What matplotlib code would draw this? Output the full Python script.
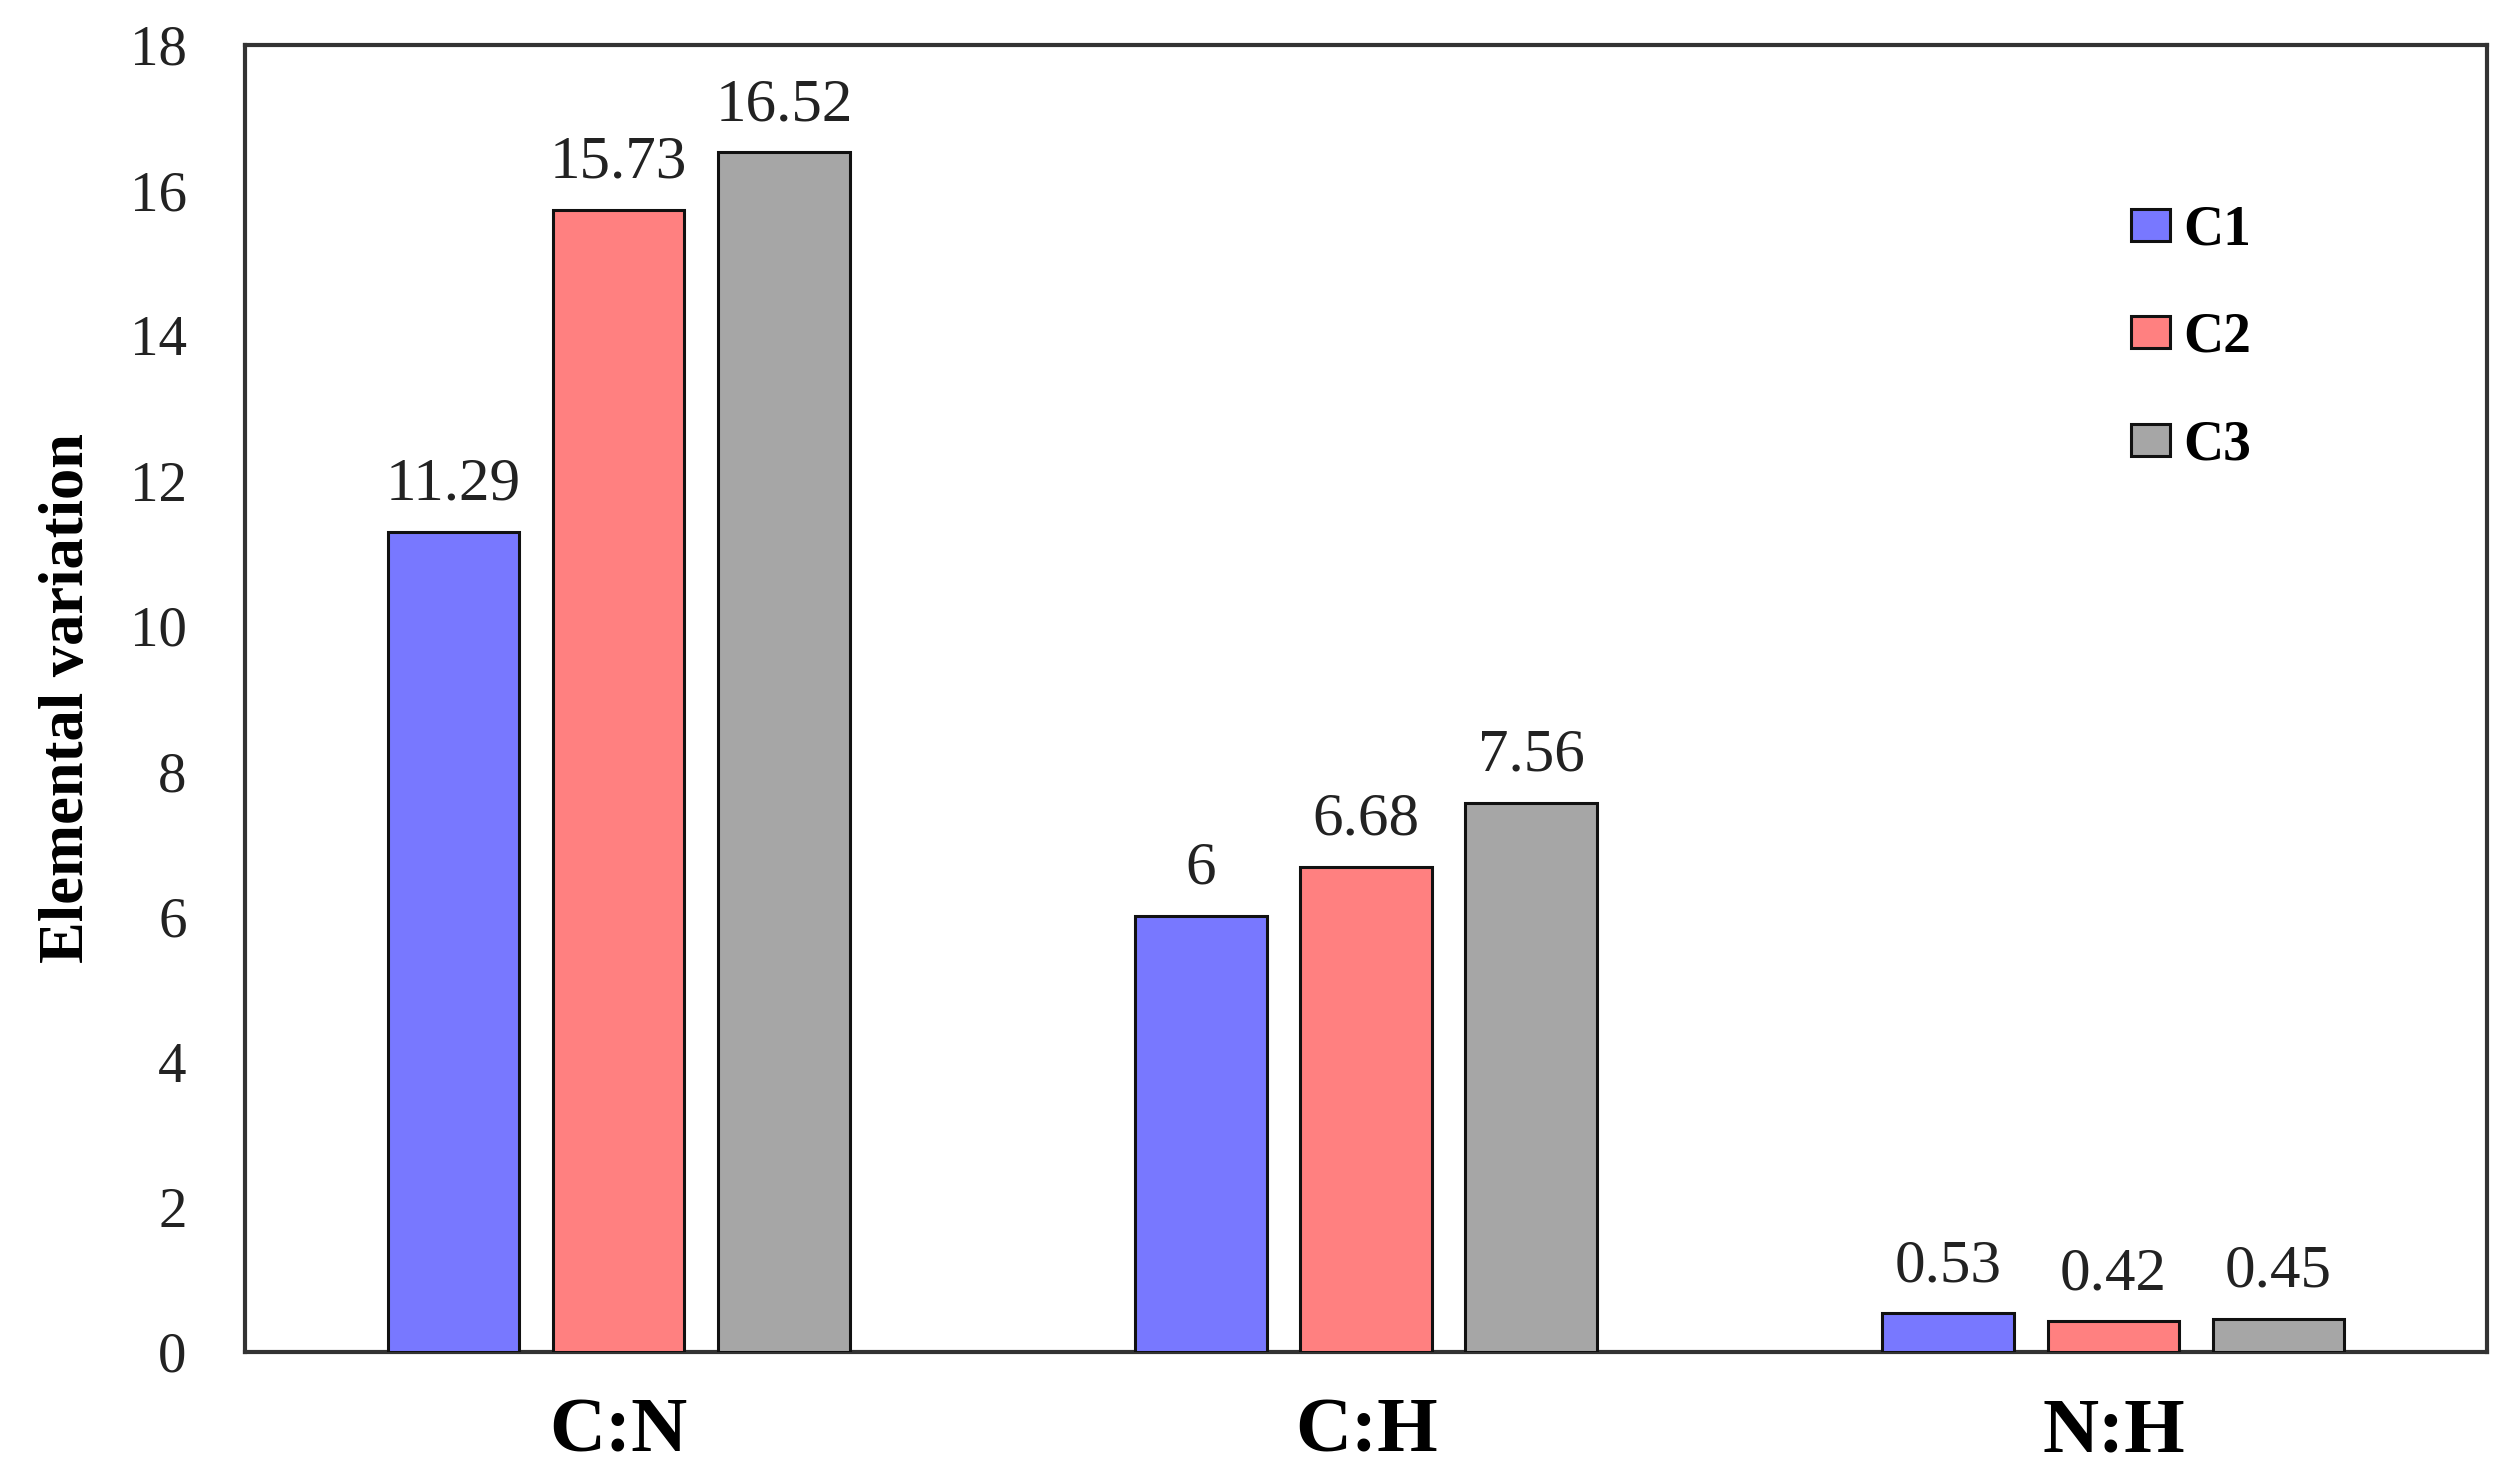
import numpy as np
import matplotlib
matplotlib.use("Agg")
import matplotlib.pyplot as plt

# Data
categories = ['C:N', 'C:H', 'N:H']
series = ['C1', 'C2', 'C3']
c1 = [11.29, 6, 0.53]
c2 = [15.73, 6.68, 0.42]
c3 = [16.52, 7.56, 0.45]
colors = ['#7878FF', '#FF8080', '#A6A6A6']

plt.rcParams['font.family'] = ['Liberation Serif', 'DejaVu Serif']

fig = plt.figure(figsize=(25.13, 14.70), dpi=100)
ax = fig.add_axes([0.0975, 0.0803, 0.8922, 0.8891])

x = np.arange(len(categories))
width = 0.176
step = 0.221

for i, (name, vals) in enumerate(zip(series, [c1, c2, c3])):
    bars = ax.bar(x + (i - 1) * step, vals, width, color=colors[i],
                  edgecolor='#111111', linewidth=2.2, label=name, zorder=3)
    ax.bar_label(bars, labels=[f'{v:g}' for v in vals], padding=14,
                 fontsize=44, color='#222222')

ax.set_xlim(-0.5, 2.5)
ax.set_ylim(0, 18)
ax.set_yticks(np.arange(0, 19, 2))
ax.set_xticks(x)
ax.set_xticklabels(categories, fontsize=56, fontweight='bold')
ax.tick_params(axis='y', length=0, pad=42, labelsize=41, labelcolor='#222222')
ax.tick_params(axis='x', length=0, pad=33)

for sp in ax.spines.values():
    sp.set_linewidth(3)
    sp.set_color('#333333')

ax.set_ylabel('Elemental variation', fontsize=45, fontweight='bold')
ax.yaxis.set_label_coords(-0.066, 0.5)

ax.legend(loc='upper left', bbox_to_anchor=(0.841, 0.878), frameon=False,
          prop={'size': 40, 'weight': 'bold'}, handlelength=0.7,
          handleheight=0.5, handletextpad=0.25, labelspacing=1.0,
          borderpad=0, borderaxespad=0)

fig.savefig('out.png', dpi=100)
